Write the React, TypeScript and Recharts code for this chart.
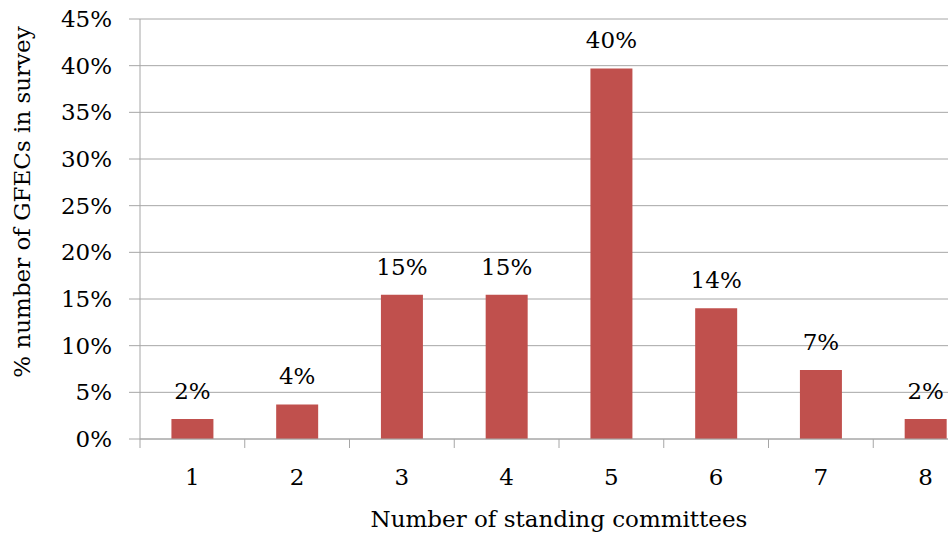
import { Bar, BarChart, CartesianGrid, LabelList, XAxis, YAxis } from "recharts";

const committees = ["1", "2", "3", "4", "5", "6", "7", "8"];
const shares = [2.15, 3.7, 15.45, 15.45, 39.7, 14.0, 7.4, 2.15];
const shareLabels = ["2%", "4%", "15%", "15%", "40%", "14%", "7%", "2%"];
const yTicks = [0, 5, 10, 15, 20, 25, 30, 35, 40, 45];

const data = committees.map((c, i) => ({ committee: c, share: shares[i], label: shareLabels[i] }));

const FONT = "'DejaVu Serif', serif";
const FONT_SIZE = 23;
const GRID = "#a6a6a6";
const BAR = "#c0504d";

// chart is wider than the window on purpose: the last bar is cut off in the original
const W = 1000;
const H = 540;
const margin = { top: 19, right: 22, left: 0, bottom: 0 };
const Y_W = 140;
const BAND = (W - Y_W - margin.right) / committees.length;

function XTick(props: any) {
  const { x, y, payload } = props;
  const left = x - BAND / 2;
  return (
    <g>
      <line x1={left} y1={y} x2={left} y2={y + 9} stroke={GRID} />
      <text x={x} y={y + 46} textAnchor="middle" fontFamily={FONT} fontSize={FONT_SIZE} fill="#000">
        {payload.value}
      </text>
    </g>
  );
}

function XTitle(props: any) {
  const vb = props.viewBox;
  return (
    <text x={vb.x + vb.width / 2} y={vb.y + 88} textAnchor="middle" fontFamily={FONT} fontSize={FONT_SIZE} fill="#000">
      Number of standing committees
    </text>
  );
}

function YTitle(props: any) {
  const vb = props.viewBox;
  const cx = 30;
  const cy = vb.y + vb.height / 2 - 27;
  return (
    <text
      x={cx}
      y={cy}
      transform={`rotate(-90, ${cx}, ${cy})`}
      textAnchor="middle"
      fontFamily={FONT}
      fontSize={FONT_SIZE}
      fill="#000"
    >
      % number of GFECs in survey
    </text>
  );
}

export default function App() {
  return (
    <div style={{ position: "absolute", left: 0, top: 0, width: 948, height: 540, overflow: "hidden", background: "#fff" }}>
      <BarChart width={W} height={H} data={data} margin={margin} barCategoryGap="30%">
        <CartesianGrid vertical={false} stroke={GRID} />
        <XAxis
          dataKey="committee"
          height={H - 439}
          tickSize={0}
          tickMargin={0}
          tickLine={false}
          axisLine={{ stroke: GRID }}
          tick={<XTick />}
          interval={0}
          label={XTitle}
        />
        <YAxis
          width={Y_W}
          domain={[0, 45]}
          ticks={yTicks}
          interval={0}
          tickFormatter={(v: number) => `${v}%`}
          tickSize={11}
          tickMargin={17}
          tickLine={{ stroke: GRID }}
          axisLine={{ stroke: GRID }}
          tick={{ fill: "#000", fontSize: FONT_SIZE, fontFamily: FONT }}
          label={YTitle}
        />
        <Bar dataKey="share" fill={BAR} isAnimationActive={false}>
          <LabelList dataKey="label" position="top" offset={20} fill="#000" fontSize={FONT_SIZE} fontFamily={FONT} />
        </Bar>
      </BarChart>
    </div>
  );
}
